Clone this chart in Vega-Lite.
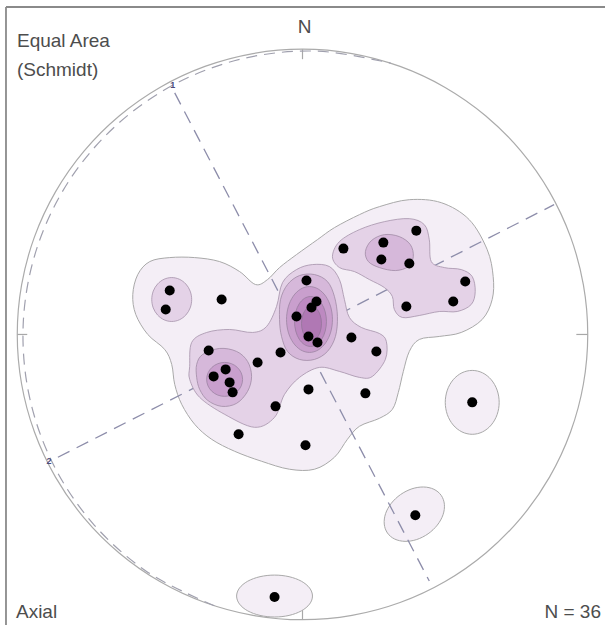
{
"$schema":"https://vega.github.io/schema/vega-lite/v6.json",
"width":606,"height":626,"padding":0,
"autosize":{"type":"fit","contains":"padding"},
"background":"white",
"config":{"view":{"stroke":null}},
"datasets":{
"frame":[{"x":-103.95,"y":-101.85,"x2":-103.95,"y2":114.8},{"x":-103.95,"y":114.8,"x2":106.05,"y2":114.8}],
"ticks":[{"x":0,"y":100,"x2":0,"y2":96.5},{"x":100,"y":0,"x2":96,"y2":0},{"x":-100,"y":0,"x2":-96.5,"y2":0},{"x":0,"y":-100,"x2":0,"y2":-96.5}],
"primitive":[{"i":0,"x":0,"y":100},{"i":1,"x":17.36,"y":98.48},{"i":2,"x":34.2,"y":93.97},{"i":3,"x":50,"y":86.6},{"i":4,"x":64.28,"y":76.6},{"i":5,"x":76.6,"y":64.28},{"i":6,"x":86.6,"y":50},{"i":7,"x":93.97,"y":34.2},{"i":8,"x":98.48,"y":17.36},{"i":9,"x":100,"y":0},{"i":10,"x":98.48,"y":-17.36},{"i":11,"x":93.97,"y":-34.2},{"i":12,"x":86.6,"y":-50},{"i":13,"x":76.6,"y":-64.28},{"i":14,"x":64.28,"y":-76.6},{"i":15,"x":50,"y":-86.6},{"i":16,"x":34.2,"y":-93.97},{"i":17,"x":17.36,"y":-98.48},{"i":18,"x":0,"y":-100},{"i":19,"x":-17.36,"y":-98.48},{"i":20,"x":-34.2,"y":-93.97},{"i":21,"x":-50,"y":-86.6},{"i":22,"x":-64.28,"y":-76.6},{"i":23,"x":-76.6,"y":-64.28},{"i":24,"x":-86.6,"y":-50},{"i":25,"x":-93.97,"y":-34.2},{"i":26,"x":-98.48,"y":-17.36},{"i":27,"x":-100,"y":0},{"i":28,"x":-98.48,"y":17.36},{"i":29,"x":-93.97,"y":34.2},{"i":30,"x":-86.6,"y":50},{"i":31,"x":-76.6,"y":64.28},{"i":32,"x":-64.28,"y":76.6},{"i":33,"x":-50,"y":86.6},{"i":34,"x":-34.2,"y":93.97},{"i":35,"x":-17.36,"y":98.48}],
"arc":[{"i":0,"x":-30.9,"y":-95.11},{"i":1,"x":-54.16,"y":-83.41},{"i":2,"x":-73.53,"y":-66.21},{"i":3,"x":-87.78,"y":-44.73},{"i":4,"x":-96.03,"y":-20.41},{"i":5,"x":-97.84,"y":5.13},{"i":6,"x":-93.11,"y":30.25},{"i":7,"x":-82.17,"y":53.36},{"i":8,"x":-65.69,"y":72.96},{"i":9,"x":-44.73,"y":87.78},{"i":10,"x":-20.57,"y":96.78},{"i":11,"x":5.2,"y":99.32},{"i":12,"x":30.9,"y":95.11}],
"diam":[{"id":"p1","i":0,"x":-44.8,"y":84.7},{"id":"p1","i":1,"x":44.45,"y":-86.45},{"id":"p2","i":0,"x":-85.75,"y":-43.05},{"id":"p2","i":1,"x":88.2,"y":45.5}],
"pts":[{"x":-46.55,"y":15.4},{"x":-47.95,"y":8.75},{"x":-28.35,"y":12.25},{"x":1.4,"y":18.9},{"x":4.9,"y":11.55},{"x":3.15,"y":9.45},{"x":-2.1,"y":6.3},{"x":2.1,"y":-0.7},{"x":5.25,"y":-2.8},{"x":17.15,"y":-1.05},{"x":25.9,"y":-5.95},{"x":-7.7,"y":-6.3},{"x":-15.75,"y":-9.8},{"x":-32.9,"y":-5.6},{"x":-26.95,"y":-12.25},{"x":-31.15,"y":-14.7},{"x":-25.55,"y":-16.8},{"x":-24.5,"y":-20.3},{"x":2.1,"y":-19.25},{"x":22.05,"y":-20.65},{"x":-9.45,"y":-25.2},{"x":-22.4,"y":-35},{"x":1.05,"y":-38.85},{"x":14.35,"y":30.1},{"x":39.9,"y":36.4},{"x":28.35,"y":32.2},{"x":27.65,"y":26.25},{"x":37.45,"y":24.85},{"x":57.05,"y":18.55},{"x":52.85,"y":11.55},{"x":36.4,"y":9.8},{"x":59.5,"y":-23.8},{"x":39.55,"y":-63.35},{"x":-9.8,"y":-92.05}],
"labels":[{"t":"Equal Area","x":-100.1,"y":100.6,"pos":"left"},{"t":"(Schmidt)","x":-100.1,"y":90.65,"pos":"left"},{"t":"Axial","x":-100.45,"y":-99.4,"pos":"left"},{"t":"N","x":0.7,"y":105.7,"pos":"center"},{"t":"N = 36","x":104.65,"y":-99.4,"pos":"right"},{"t":"1","x":-45.5,"y":87.5,"pos":"small"},{"t":"2","x":-88.9,"y":-44.45,"pos":"small"}],
"contours":[
{"id":"m1","lv":1,"i":0,"x":-46.55,"y":26.95},{"id":"m1","lv":1,"i":1,"x":-53.55,"y":25.55},{"id":"m1","lv":1,"i":2,"x":-57.75,"y":21},{"id":"m1","lv":1,"i":3,"x":-59.5,"y":14},{"id":"m1","lv":1,"i":4,"x":-58.45,"y":7},{"id":"m1","lv":1,"i":5,"x":-54.25,"y":0},{"id":"m1","lv":1,"i":6,"x":-48.3,"y":-5.25},{"id":"m1","lv":1,"i":7,"x":-45.85,"y":-10.5},{"id":"m1","lv":1,"i":8,"x":-44.8,"y":-17.5},{"id":"m1","lv":1,"i":9,"x":-42.35,"y":-24.5},{"id":"m1","lv":1,"i":10,"x":-37.8,"y":-31.5},{"id":"m1","lv":1,"i":11,"x":-31.85,"y":-36.75},{"id":"m1","lv":1,"i":12,"x":-23.8,"y":-40.95},{"id":"m1","lv":1,"i":13,"x":-14.35,"y":-44.45},{"id":"m1","lv":1,"i":14,"x":-4.55,"y":-47.25},{"id":"m1","lv":1,"i":15,"x":4.2,"y":-47.25},{"id":"m1","lv":1,"i":16,"x":11.2,"y":-43.05},{"id":"m1","lv":1,"i":17,"x":15.75,"y":-36.75},{"id":"m1","lv":1,"i":18,"x":19.95,"y":-32.2},{"id":"m1","lv":1,"i":19,"x":26.95,"y":-29.4},{"id":"m1","lv":1,"i":20,"x":31.5,"y":-26.25},{"id":"m1","lv":1,"i":21,"x":33.6,"y":-20.3},{"id":"m1","lv":1,"i":22,"x":35.35,"y":-12.95},{"id":"m1","lv":1,"i":23,"x":37.45,"y":-5.95},{"id":"m1","lv":1,"i":24,"x":40.95,"y":-1.75},{"id":"m1","lv":1,"i":25,"x":47.95,"y":-0.7},{"id":"m1","lv":1,"i":26,"x":55.65,"y":0.7},{"id":"m1","lv":1,"i":27,"x":63,"y":5.25},{"id":"m1","lv":1,"i":28,"x":66.5,"y":12.25},{"id":"m1","lv":1,"i":29,"x":66.85,"y":20.3},{"id":"m1","lv":1,"i":30,"x":64.75,"y":29.75},{"id":"m1","lv":1,"i":31,"x":58.45,"y":40.25},{"id":"m1","lv":1,"i":32,"x":48.65,"y":46.2},{"id":"m1","lv":1,"i":33,"x":37.45,"y":47.25},{"id":"m1","lv":1,"i":34,"x":26.95,"y":44.8},{"id":"m1","lv":1,"i":35,"x":19.95,"y":42},{"id":"m1","lv":1,"i":36,"x":11.2,"y":37.45},{"id":"m1","lv":1,"i":37,"x":5.25,"y":33.25},{"id":"m1","lv":1,"i":38,"x":-2.1,"y":28},{"id":"m1","lv":1,"i":39,"x":-8.05,"y":23.45},{"id":"m1","lv":1,"i":40,"x":-12.25,"y":19.25},{"id":"m1","lv":1,"i":41,"x":-16.45,"y":17.5},{"id":"m1","lv":1,"i":42,"x":-22.05,"y":22.05},{"id":"m1","lv":1,"i":43,"x":-29.05,"y":25.55},{"id":"m1","lv":1,"i":44,"x":-37.8,"y":26.95},
{"id":"e1","lv":1,"i":0,"x":68.95,"y":-23.8},{"id":"e1","lv":1,"i":1,"x":68.23,"y":-19.51},{"id":"e1","lv":1,"i":2,"x":66.18,"y":-15.88},{"id":"e1","lv":1,"i":3,"x":63.12,"y":-13.45},{"id":"e1","lv":1,"i":4,"x":59.5,"y":-12.6},{"id":"e1","lv":1,"i":5,"x":55.88,"y":-13.45},{"id":"e1","lv":1,"i":6,"x":52.82,"y":-15.88},{"id":"e1","lv":1,"i":7,"x":50.77,"y":-19.51},{"id":"e1","lv":1,"i":8,"x":50.05,"y":-23.8},{"id":"e1","lv":1,"i":9,"x":50.77,"y":-28.09},{"id":"e1","lv":1,"i":10,"x":52.82,"y":-31.72},{"id":"e1","lv":1,"i":11,"x":55.88,"y":-34.15},{"id":"e1","lv":1,"i":12,"x":59.5,"y":-35},{"id":"e1","lv":1,"i":13,"x":63.12,"y":-34.15},{"id":"e1","lv":1,"i":14,"x":66.18,"y":-31.72},{"id":"e1","lv":1,"i":15,"x":68.23,"y":-28.09},
{"id":"e2","lv":1,"i":0,"x":48.62,"y":-56.4},{"id":"e2","lv":1,"i":1,"x":46.06,"y":-54.27},{"id":"e2","lv":1,"i":2,"x":42.45,"y":-53.47},{"id":"e2","lv":1,"i":3,"x":38.36,"y":-54.11},{"id":"e2","lv":1,"i":4,"x":34.38,"y":-56.12},{"id":"e2","lv":1,"i":5,"x":31.14,"y":-59.17},{"id":"e2","lv":1,"i":6,"x":29.13,"y":-62.8},{"id":"e2","lv":1,"i":7,"x":28.66,"y":-66.47},{"id":"e2","lv":1,"i":8,"x":29.78,"y":-69.6},{"id":"e2","lv":1,"i":9,"x":32.34,"y":-71.73},{"id":"e2","lv":1,"i":10,"x":35.95,"y":-72.53},{"id":"e2","lv":1,"i":11,"x":40.04,"y":-71.89},{"id":"e2","lv":1,"i":12,"x":44.02,"y":-69.88},{"id":"e2","lv":1,"i":13,"x":47.26,"y":-66.83},{"id":"e2","lv":1,"i":14,"x":49.27,"y":-63.2},{"id":"e2","lv":1,"i":15,"x":49.74,"y":-59.53},
{"id":"e3","lv":1,"i":0,"x":3.5,"y":-91.7},{"id":"e3","lv":1,"i":1,"x":2.49,"y":-88.89},{"id":"e3","lv":1,"i":2,"x":-0.4,"y":-86.5},{"id":"e3","lv":1,"i":3,"x":-4.71,"y":-84.91},{"id":"e3","lv":1,"i":4,"x":-9.8,"y":-84.35},{"id":"e3","lv":1,"i":5,"x":-14.89,"y":-84.91},{"id":"e3","lv":1,"i":6,"x":-19.2,"y":-86.5},{"id":"e3","lv":1,"i":7,"x":-22.09,"y":-88.89},{"id":"e3","lv":1,"i":8,"x":-23.1,"y":-91.7},{"id":"e3","lv":1,"i":9,"x":-22.09,"y":-94.51},{"id":"e3","lv":1,"i":10,"x":-19.2,"y":-96.9},{"id":"e3","lv":1,"i":11,"x":-14.89,"y":-98.49},{"id":"e3","lv":1,"i":12,"x":-9.8,"y":-99.05},{"id":"e3","lv":1,"i":13,"x":-4.71,"y":-98.49},{"id":"e3","lv":1,"i":14,"x":-0.4,"y":-96.9},{"id":"e3","lv":1,"i":15,"x":2.49,"y":-94.51},
{"id":"l2a","lv":2,"i":0,"x":-38.85,"y":12.25},{"id":"l2a","lv":2,"i":1,"x":-39.38,"y":15.2},{"id":"l2a","lv":2,"i":2,"x":-40.9,"y":17.69},{"id":"l2a","lv":2,"i":3,"x":-43.17,"y":19.36},{"id":"l2a","lv":2,"i":4,"x":-45.85,"y":19.95},{"id":"l2a","lv":2,"i":5,"x":-48.53,"y":19.36},{"id":"l2a","lv":2,"i":6,"x":-50.8,"y":17.69},{"id":"l2a","lv":2,"i":7,"x":-52.32,"y":15.2},{"id":"l2a","lv":2,"i":8,"x":-52.85,"y":12.25},{"id":"l2a","lv":2,"i":9,"x":-52.32,"y":9.3},{"id":"l2a","lv":2,"i":10,"x":-50.8,"y":6.81},{"id":"l2a","lv":2,"i":11,"x":-48.53,"y":5.14},{"id":"l2a","lv":2,"i":12,"x":-45.85,"y":4.55},{"id":"l2a","lv":2,"i":13,"x":-43.17,"y":5.14},{"id":"l2a","lv":2,"i":14,"x":-40.9,"y":6.81},{"id":"l2a","lv":2,"i":15,"x":-39.38,"y":9.3},
{"id":"l2b","lv":2,"i":0,"x":-39.55,"y":-15.75},{"id":"l2b","lv":2,"i":1,"x":-39.55,"y":-11.2},{"id":"l2b","lv":2,"i":2,"x":-38.85,"y":-2.8},{"id":"l2b","lv":2,"i":3,"x":-33.6,"y":0.7},{"id":"l2b","lv":2,"i":4,"x":-25.55,"y":1.75},{"id":"l2b","lv":2,"i":5,"x":-17.5,"y":0.7},{"id":"l2b","lv":2,"i":6,"x":-12.6,"y":2.8},{"id":"l2b","lv":2,"i":7,"x":-9.1,"y":9.8},{"id":"l2b","lv":2,"i":8,"x":-7,"y":18.2},{"id":"l2b","lv":2,"i":9,"x":-2.1,"y":22.75},{"id":"l2b","lv":2,"i":10,"x":3.5,"y":24.5},{"id":"l2b","lv":2,"i":11,"x":9.45,"y":23.8},{"id":"l2b","lv":2,"i":12,"x":12.95,"y":19.25},{"id":"l2b","lv":2,"i":13,"x":14.7,"y":12.25},{"id":"l2b","lv":2,"i":14,"x":16.45,"y":5.95},{"id":"l2b","lv":2,"i":15,"x":20.65,"y":2.45},{"id":"l2b","lv":2,"i":16,"x":26.95,"y":0.35},{"id":"l2b","lv":2,"i":17,"x":29.4,"y":-2.45},{"id":"l2b","lv":2,"i":18,"x":29.05,"y":-8.75},{"id":"l2b","lv":2,"i":19,"x":24.5,"y":-14.7},{"id":"l2b","lv":2,"i":20,"x":19.95,"y":-15.05},{"id":"l2b","lv":2,"i":21,"x":12.95,"y":-12.95},{"id":"l2b","lv":2,"i":22,"x":5.95,"y":-11.55},{"id":"l2b","lv":2,"i":23,"x":-1.05,"y":-15.05},{"id":"l2b","lv":2,"i":24,"x":-6.3,"y":-21},{"id":"l2b","lv":2,"i":25,"x":-9.8,"y":-29.05},{"id":"l2b","lv":2,"i":26,"x":-16.8,"y":-32.55},{"id":"l2b","lv":2,"i":27,"x":-27.3,"y":-28},{"id":"l2b","lv":2,"i":28,"x":-36.05,"y":-22.05},
{"id":"l2c","lv":2,"i":0,"x":10.5,"y":27.3},{"id":"l2c","lv":2,"i":1,"x":12.95,"y":32.55},{"id":"l2c","lv":2,"i":2,"x":19.95,"y":36.75},{"id":"l2c","lv":2,"i":3,"x":28.7,"y":39.55},{"id":"l2c","lv":2,"i":4,"x":37.45,"y":40.6},{"id":"l2c","lv":2,"i":5,"x":42.7,"y":38.5},{"id":"l2c","lv":2,"i":6,"x":44.45,"y":33.25},{"id":"l2c","lv":2,"i":7,"x":45.15,"y":25.55},{"id":"l2c","lv":2,"i":8,"x":49.7,"y":23.45},{"id":"l2c","lv":2,"i":9,"x":55.65,"y":22.75},{"id":"l2c","lv":2,"i":10,"x":59.5,"y":20.3},{"id":"l2c","lv":2,"i":11,"x":60.55,"y":15.05},{"id":"l2c","lv":2,"i":12,"x":59.15,"y":10.5},{"id":"l2c","lv":2,"i":13,"x":54.25,"y":8.05},{"id":"l2c","lv":2,"i":14,"x":47.95,"y":8.05},{"id":"l2c","lv":2,"i":15,"x":40.95,"y":6.65},{"id":"l2c","lv":2,"i":16,"x":35,"y":5.95},{"id":"l2c","lv":2,"i":17,"x":32.2,"y":8.75},{"id":"l2c","lv":2,"i":18,"x":31.5,"y":13.3},{"id":"l2c","lv":2,"i":19,"x":28.7,"y":16.45},{"id":"l2c","lv":2,"i":20,"x":23.45,"y":19.25},{"id":"l2c","lv":2,"i":21,"x":18.2,"y":22.05},{"id":"l2c","lv":2,"i":22,"x":12.95,"y":23.45},
{"id":"l3a","lv":3,"i":0,"x":-37.1,"y":-10.5},{"id":"l3a","lv":3,"i":1,"x":-35,"y":-7},{"id":"l3a","lv":3,"i":2,"x":-29.05,"y":-4.9},{"id":"l3a","lv":3,"i":3,"x":-23.1,"y":-5.95},{"id":"l3a","lv":3,"i":4,"x":-19.25,"y":-9.45},{"id":"l3a","lv":3,"i":5,"x":-17.85,"y":-14.7},{"id":"l3a","lv":3,"i":6,"x":-19.25,"y":-19.95},{"id":"l3a","lv":3,"i":7,"x":-23.1,"y":-24.15},{"id":"l3a","lv":3,"i":8,"x":-28.35,"y":-25.2},{"id":"l3a","lv":3,"i":9,"x":-33.25,"y":-23.1},{"id":"l3a","lv":3,"i":10,"x":-36.05,"y":-19.25},{"id":"l3a","lv":3,"i":11,"x":-37.1,"y":-15.05},
{"id":"l3b","lv":3,"i":0,"x":-8.05,"y":5.25},{"id":"l3b","lv":3,"i":1,"x":-7.7,"y":12.25},{"id":"l3b","lv":3,"i":2,"x":-5.25,"y":17.5},{"id":"l3b","lv":3,"i":3,"x":-1.05,"y":20.65},{"id":"l3b","lv":3,"i":4,"x":4.2,"y":21},{"id":"l3b","lv":3,"i":5,"x":8.75,"y":18.55},{"id":"l3b","lv":3,"i":6,"x":11.2,"y":13.3},{"id":"l3b","lv":3,"i":7,"x":12.25,"y":6.3},{"id":"l3b","lv":3,"i":8,"x":11.55,"y":-0.7},{"id":"l3b","lv":3,"i":9,"x":8.75,"y":-5.95},{"id":"l3b","lv":3,"i":10,"x":4.2,"y":-8.75},{"id":"l3b","lv":3,"i":11,"x":-1.05,"y":-8.75},{"id":"l3b","lv":3,"i":12,"x":-5.25,"y":-5.95},{"id":"l3b","lv":3,"i":13,"x":-7.35,"y":-0.7},
{"id":"l3c","lv":3,"i":0,"x":22.05,"y":29.05},{"id":"l3c","lv":3,"i":1,"x":24.15,"y":32.9},{"id":"l3c","lv":3,"i":2,"x":28.7,"y":35},{"id":"l3c","lv":3,"i":3,"x":33.95,"y":34.3},{"id":"l3c","lv":3,"i":4,"x":37.8,"y":31.5},{"id":"l3c","lv":3,"i":5,"x":38.85,"y":27.3},{"id":"l3c","lv":3,"i":6,"x":37.1,"y":23.8},{"id":"l3c","lv":3,"i":7,"x":32.55,"y":22.4},{"id":"l3c","lv":3,"i":8,"x":26.95,"y":23.45},{"id":"l3c","lv":3,"i":9,"x":23.1,"y":25.55},
{"id":"l4a","lv":4,"i":0,"x":-21,"y":-15.75},{"id":"l4a","lv":4,"i":1,"x":-21.48,"y":-13.47},{"id":"l4a","lv":4,"i":2,"x":-22.85,"y":-11.54},{"id":"l4a","lv":4,"i":3,"x":-24.89,"y":-10.25},{"id":"l4a","lv":4,"i":4,"x":-27.3,"y":-9.8},{"id":"l4a","lv":4,"i":5,"x":-29.71,"y":-10.25},{"id":"l4a","lv":4,"i":6,"x":-31.75,"y":-11.54},{"id":"l4a","lv":4,"i":7,"x":-33.12,"y":-13.47},{"id":"l4a","lv":4,"i":8,"x":-33.6,"y":-15.75},{"id":"l4a","lv":4,"i":9,"x":-33.12,"y":-18.03},{"id":"l4a","lv":4,"i":10,"x":-31.75,"y":-19.96},{"id":"l4a","lv":4,"i":11,"x":-29.71,"y":-21.25},{"id":"l4a","lv":4,"i":12,"x":-27.3,"y":-21.7},{"id":"l4a","lv":4,"i":13,"x":-24.89,"y":-21.25},{"id":"l4a","lv":4,"i":14,"x":-22.85,"y":-19.96},{"id":"l4a","lv":4,"i":15,"x":-21.48,"y":-18.03},
{"id":"l4b","lv":4,"i":0,"x":10.5,"y":5.25},{"id":"l4b","lv":4,"i":1,"x":9.89,"y":9.67},{"id":"l4b","lv":4,"i":2,"x":8.14,"y":13.42},{"id":"l4b","lv":4,"i":3,"x":5.53,"y":15.92},{"id":"l4b","lv":4,"i":4,"x":2.45,"y":16.8},{"id":"l4b","lv":4,"i":5,"x":-0.63,"y":15.92},{"id":"l4b","lv":4,"i":6,"x":-3.24,"y":13.42},{"id":"l4b","lv":4,"i":7,"x":-4.99,"y":9.67},{"id":"l4b","lv":4,"i":8,"x":-5.6,"y":5.25},{"id":"l4b","lv":4,"i":9,"x":-4.99,"y":0.83},{"id":"l4b","lv":4,"i":10,"x":-3.24,"y":-2.92},{"id":"l4b","lv":4,"i":11,"x":-0.63,"y":-5.42},{"id":"l4b","lv":4,"i":12,"x":2.45,"y":-6.3},{"id":"l4b","lv":4,"i":13,"x":5.53,"y":-5.42},{"id":"l4b","lv":4,"i":14,"x":8.14,"y":-2.92},{"id":"l4b","lv":4,"i":15,"x":9.89,"y":0.83},
{"id":"l5","lv":5,"i":0,"x":8.4,"y":4.55},{"id":"l5","lv":5,"i":1,"x":7.97,"y":7.9},{"id":"l5","lv":5,"i":2,"x":6.76,"y":10.74},{"id":"l5","lv":5,"i":3,"x":4.94,"y":12.63},{"id":"l5","lv":5,"i":4,"x":2.8,"y":13.3},{"id":"l5","lv":5,"i":5,"x":0.66,"y":12.63},{"id":"l5","lv":5,"i":6,"x":-1.16,"y":10.74},{"id":"l5","lv":5,"i":7,"x":-2.37,"y":7.9},{"id":"l5","lv":5,"i":8,"x":-2.8,"y":4.55},{"id":"l5","lv":5,"i":9,"x":-2.37,"y":1.2},{"id":"l5","lv":5,"i":10,"x":-1.16,"y":-1.64},{"id":"l5","lv":5,"i":11,"x":0.66,"y":-3.53},{"id":"l5","lv":5,"i":12,"x":2.8,"y":-4.2},{"id":"l5","lv":5,"i":13,"x":4.94,"y":-3.53},{"id":"l5","lv":5,"i":14,"x":6.76,"y":-1.64},{"id":"l5","lv":5,"i":15,"x":7.97,"y":1.2},
{"id":"l6","lv":6,"i":0,"x":6.65,"y":3.85},{"id":"l6","lv":6,"i":1,"x":6.18,"y":6.83},{"id":"l6","lv":6,"i":2,"x":4.9,"y":9},{"id":"l6","lv":6,"i":3,"x":3.15,"y":9.8},{"id":"l6","lv":6,"i":4,"x":1.4,"y":9},{"id":"l6","lv":6,"i":5,"x":0.12,"y":6.83},{"id":"l6","lv":6,"i":6,"x":-0.35,"y":3.85},{"id":"l6","lv":6,"i":7,"x":0.12,"y":0.87},{"id":"l6","lv":6,"i":8,"x":1.4,"y":-1.3},{"id":"l6","lv":6,"i":9,"x":3.15,"y":-2.1},{"id":"l6","lv":6,"i":10,"x":4.9,"y":-1.3},{"id":"l6","lv":6,"i":11,"x":6.18,"y":0.87}
]
},
"encoding":{
"x":{"field":"x","type":"quantitative","scale":{"domain":[-106.05,106.05],"nice":false,"zero":false},"axis":null},
"y":{"field":"y","type":"quantitative","scale":{"domain":[-101.85,117.25],"nice":false,"zero":false},"axis":null}
},
"layer":[
{"data":{"name":"frame"},"mark":{"type":"rule","color":"#8a8a8a","strokeWidth":1.8},"encoding":{"x2":{"field":"x2"},"y2":{"field":"y2"}}},
{"data":{"name":"primitive"},"mark":{"type":"line","interpolate":"cardinal-closed","color":"#ababab","strokeWidth":1.2},"encoding":{"order":{"field":"i","type":"quantitative"}}},
{"data":{"name":"ticks"},"mark":{"type":"rule","color":"#a8a8a8","strokeWidth":1.2},"encoding":{"x2":{"field":"x2"},"y2":{"field":"y2"}}},
{"data":{"name":"arc"},"mark":{"type":"line","interpolate":"catmull-rom","color":"#a0a0ae","strokeWidth":1.2,"strokeDash":[11,7]},"encoding":{"order":{"field":"i","type":"quantitative"}}},
{"data":{"name":"contours"},"transform":[{"filter":"datum.lv == 1"}],"mark":{"type":"line","interpolate":"cardinal-closed","fill":"#f4eef6","stroke":"#a9a9a9","strokeWidth":1},"encoding":{"detail":{"field":"id"},"order":{"field":"i","type":"quantitative"}}},
{"data":{"name":"diam"},"mark":{"type":"line","color":"#8d8daa","strokeWidth":1.3,"strokeDash":[13,8]},"encoding":{"detail":{"field":"id"},"order":{"field":"i","type":"quantitative"}}},
{"data":{"name":"contours"},"transform":[{"filter":"datum.lv == 2"}],"mark":{"type":"line","interpolate":"cardinal-closed","fill":"#e4d2e7","stroke":"#a592aa","strokeWidth":0.8},"encoding":{"detail":{"field":"id"},"order":{"field":"i","type":"quantitative"}}},
{"data":{"name":"contours"},"transform":[{"filter":"datum.lv == 3"}],"mark":{"type":"line","interpolate":"cardinal-closed","fill":"#d6b8da","stroke":"#a08aa5","strokeWidth":0.8},"encoding":{"detail":{"field":"id"},"order":{"field":"i","type":"quantitative"}}},
{"data":{"name":"contours"},"transform":[{"filter":"datum.lv == 4"}],"mark":{"type":"line","interpolate":"cardinal-closed","fill":"#c99fcd","stroke":"#9c84a2","strokeWidth":0.8},"encoding":{"detail":{"field":"id"},"order":{"field":"i","type":"quantitative"}}},
{"data":{"name":"contours"},"transform":[{"filter":"datum.lv == 5"}],"mark":{"type":"line","interpolate":"cardinal-closed","fill":"#bd89c1","stroke":"#977c9d","strokeWidth":0.8},"encoding":{"detail":{"field":"id"},"order":{"field":"i","type":"quantitative"}}},
{"data":{"name":"contours"},"transform":[{"filter":"datum.lv == 6"}],"mark":{"type":"line","interpolate":"cardinal-closed","fill":"#b078b4","stroke":"#927598","strokeWidth":0.8},"encoding":{"detail":{"field":"id"},"order":{"field":"i","type":"quantitative"}}},
{"data":{"name":"pts"},"mark":{"type":"point","shape":"circle","filled":true,"color":"#000000","opacity":1,"size":100}},
{"data":{"name":"labels"},"transform":[{"filter":"datum.pos == 'left'"}],"mark":{"type":"text","align":"left","baseline":"alphabetic","font":"Liberation Sans","fontSize":19,"color":"#4d4d4d"},"encoding":{"text":{"field":"t"}}},
{"data":{"name":"labels"},"transform":[{"filter":"datum.pos == 'center'"}],"mark":{"type":"text","align":"center","baseline":"alphabetic","font":"Liberation Sans","fontSize":19,"color":"#4d4d4d"},"encoding":{"text":{"field":"t"}}},
{"data":{"name":"labels"},"transform":[{"filter":"datum.pos == 'right'"}],"mark":{"type":"text","align":"right","baseline":"alphabetic","font":"Liberation Sans","fontSize":19,"color":"#4d4d4d"},"encoding":{"text":{"field":"t"}}},
{"data":{"name":"labels"},"transform":[{"filter":"datum.pos == 'small'"}],"mark":{"type":"text","align":"center","baseline":"middle","font":"Liberation Sans","fontSize":9,"fontWeight":"bold","color":"#4a4a7a"},"encoding":{"text":{"field":"t"}}}
]
}
